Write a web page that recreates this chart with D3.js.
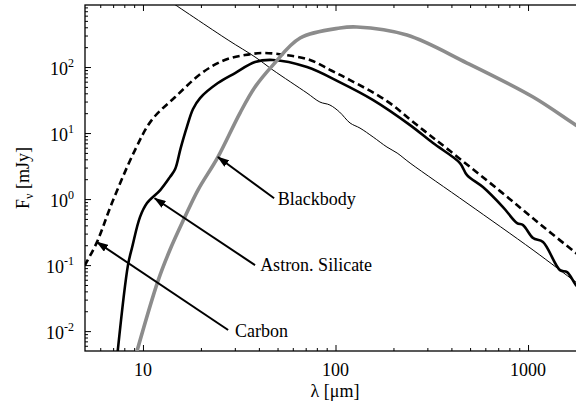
<!DOCTYPE html>
<html>
<head>
<meta charset="utf-8">
<script src="https://cdn.jsdelivr.net/npm/d3@7"></script>
<style>
  body { margin: 0; background: #fff; }
  svg { display: block; }
  text { font-family: "Liberation Serif", "Times New Roman", serif; fill: #000; }
</style>
</head>
<body>
<svg id="chart" width="576" height="414"></svg>
<script>
// Spectral energy distributions: wavelength in µm, flux density in mJy.
const blackbodyLambda = [9.09, 11.96, 13.8, 16.5, 19.3, 24.5, 31.9, 38.2, 47.3, 65.5, 105.4, 129, 235, 482, 1062, 1774, 2000];
const blackbodyFlux   = [0.0039, 0.0573, 0.169, 0.533, 1.37, 4.33, 20.1, 49.8, 107, 275, 390, 404, 305, 115, 35.1, 13.2, 10.8];

const silicateLambda = [7.33, 8.36, 8.8, 9.65, 10.5, 12.3, 13.8, 14.7, 15.7, 16.9, 18.2, 19.8, 24.5, 30.1, 38.2, 47.3, 71.1, 105, 157, 244, 321, 443, 482, 583, 741, 877, 942, 1062, 1196, 1466, 1595, 1774, 2000];
const silicateFlux   = [0.0039, 0.1, 0.19, 0.533, 0.869, 1.37, 2.15, 2.85, 5.93, 12.3, 23.1, 33.9, 57.2, 81.1, 119, 128, 100, 59.2, 31.6, 13.2, 7.05, 3.51, 2.31, 1.52, 0.757, 0.433, 0.404, 0.257, 0.223, 0.0839, 0.0783, 0.0498, 0.035];

const carbonLambda = [4.7, 5.0, 5.77, 6.90, 9.09, 11.1, 14.7, 20.2, 26.6, 33.9, 42.0, 55, 73.7, 95, 119, 185, 265, 394, 716, 1153, 1774, 2000];
const carbonFlux   = [0.07, 0.10, 0.223, 0.869, 5.52, 15.7, 35.1, 81.1, 128, 152, 163, 152, 128, 88.5, 63.5, 30.5, 13.2, 5.33, 1.32, 0.418, 0.152, 0.115];

const powerLawLambda = [14.0, 27.7, 38.2, 47.3, 71.1, 83.0, 93.5, 105, 119, 134, 157, 185, 209, 244, 482, 1062, 1774, 2000];
const powerLawFlux   = [966, 256, 142, 90.1, 40.4, 29.5, 26.6, 20.8, 14.2, 11.9, 8.69, 6.14, 4.98, 3.51, 0.869, 0.169, 0.0552, 0.043];

// Axis ticks
const xTickValues = [10, 100, 1000];
const xTickLabels = ["10", "100", "1000"];
const yTickValues = [0.01, 0.1, 1, 10, 100];
const yTickExponents = ["-2", "-1", "0", "1", "2"];

// Curve annotations: arrow tip, arrow tail and label anchor (data units)
const noteNames      = ["Blackbody", "Astron. Silicate", "Carbon"];
const noteTipLambda  = [24.5, 11.5, 5.77];
const noteTipFlux    = [4.33, 1.03, 0.223];
const noteTailLambda = [48.0, 38.2, 27.7];
const noteTailFlux   = [1.03, 0.1, 0.0104];
const noteTextLambda = [50.2, 40.6, 30.1];
const noteTextFlux   = [0.81, 0.081, 0.0081];

const svg = d3.select("#chart");
const plotLeft = 85, plotRight = 586, plotTop = 5, plotBottom = 351;

const x = d3.scaleLog().domain([5, 2000]).range([plotLeft, plotRight]);
const y = d3.scaleLog().domain([0.005, 870]).range([plotBottom, plotTop]);

const defs = svg.append("defs");
defs.append("clipPath").attr("id", "plotClip")
  .append("rect").attr("x", plotLeft).attr("y", plotTop)
  .attr("width", plotRight - plotLeft).attr("height", plotBottom - plotTop);
defs.append("marker").attr("id", "head")
  .attr("viewBox", "0 -4 12 8").attr("refX", 11).attr("refY", 0)
  .attr("markerUnits", "userSpaceOnUse")
  .attr("markerWidth", 12).attr("markerHeight", 8)
  .attr("orient", "auto")
  .append("path").attr("d", "M0,-4L12,0L0,4Z").attr("fill", "#000");

// minor tick positions (2..9 per decade)
function minorTicks(scale) {
  const [a, b] = scale.domain();
  const out = [];
  for (let e = -4; e <= 4; e++) {
    for (let k = 2; k <= 9; k++) {
      const v = k * Math.pow(10, e);
      if (v > a && v < b) out.push(v);
    }
  }
  return out;
}
const xMinor = minorTicks(x);
const yMinor = minorTicks(y);

function styleAxis(g) {
  g.select(".domain").remove();
  g.selectAll(".tick line").attr("stroke", "#000").attr("stroke-width", 1);
  g.selectAll(".tick text").remove();
}

// bottom axis
svg.append("g").attr("transform", `translate(0,${plotBottom})`)
  .call(d3.axisBottom(x).tickValues(xTickValues).tickSize(-6).tickSizeOuter(0)).call(styleAxis);
svg.append("g").attr("transform", `translate(0,${plotBottom})`)
  .call(d3.axisBottom(x).tickValues(xMinor).tickSize(-3).tickSizeOuter(0)).call(styleAxis);
// top axis
svg.append("g").attr("transform", `translate(0,${plotTop})`)
  .call(d3.axisTop(x).tickValues(xTickValues).tickSize(-6).tickSizeOuter(0)).call(styleAxis);
svg.append("g").attr("transform", `translate(0,${plotTop})`)
  .call(d3.axisTop(x).tickValues(xMinor).tickSize(-3).tickSizeOuter(0)).call(styleAxis);
// left axis
svg.append("g").attr("transform", `translate(${plotLeft},0)`)
  .call(d3.axisLeft(y).tickValues(yTickValues).tickSize(-6).tickSizeOuter(0)).call(styleAxis);
svg.append("g").attr("transform", `translate(${plotLeft},0)`)
  .call(d3.axisLeft(y).tickValues(yMinor).tickSize(-3).tickSizeOuter(0)).call(styleAxis);

// frame
svg.append("rect").attr("x", plotLeft).attr("y", plotTop)
  .attr("width", plotRight - plotLeft).attr("height", plotBottom - plotTop)
  .attr("fill", "none").attr("stroke", "#000").attr("stroke-width", 1.3);

// x tick labels
svg.append("g").attr("class", "x-labels")
  .selectAll("text").data(xTickValues).join("text")
  .attr("x", d => x(d)).attr("y", plotBottom + 25)
  .attr("text-anchor", "middle").attr("font-size", 18)
  .text((d, i) => xTickLabels[i]);

// y tick labels as powers of ten
const yLab = svg.append("g").attr("class", "y-labels")
  .selectAll("text").data(yTickValues).join("text")
  .attr("x", plotLeft - 11).attr("y", d => y(d) + 8)
  .attr("text-anchor", "end").attr("font-size", 18);
yLab.append("tspan").text("10");
yLab.append("tspan").attr("font-size", 12).attr("dy", -8)
  .text((d, i) => yTickExponents[i]);

// axis titles
svg.append("text").attr("x", 335).attr("y", 397)
  .attr("text-anchor", "middle").attr("font-size", 18)
  .text("λ [μm]");
const yTitle = svg.append("text")
  .attr("transform", "translate(29,178) rotate(-90)")
  .attr("text-anchor", "middle").attr("font-size", 18);
yTitle.append("tspan").text("F");
yTitle.append("tspan").attr("font-size", 12).attr("dy", 4).text("ν");
yTitle.append("tspan").attr("dy", -4).text(" [mJy]");

// curves
const line = d3.line()
  .x(d => x(d[0])).y(d => y(d[1]))
  .curve(d3.curveCatmullRom.alpha(0.5));
const zip = (a, b) => a.map((v, i) => [v, b[i]]);

const plot = svg.append("g").attr("clip-path", "url(#plotClip)");

plot.append("path").datum(zip(powerLawLambda, powerLawFlux))
  .attr("d", line).attr("fill", "none").attr("stroke", "#000").attr("stroke-width", 1);
plot.append("path").datum(zip(silicateLambda, silicateFlux))
  .attr("d", line).attr("fill", "none").attr("stroke", "#000").attr("stroke-width", 2.6);
plot.append("path").datum(zip(carbonLambda, carbonFlux))
  .attr("d", line).attr("fill", "none").attr("stroke", "#000").attr("stroke-width", 2.6)
  .attr("stroke-dasharray", "7,4");
plot.append("path").datum(zip(blackbodyLambda, blackbodyFlux))
  .attr("d", line).attr("fill", "none").attr("stroke", "#8c8c8c").attr("stroke-width", 3.6);

// annotations
const notes = svg.append("g");
noteNames.forEach((name, i) => {
  notes.append("line")
    .attr("x1", x(noteTailLambda[i])).attr("y1", y(noteTailFlux[i]))
    .attr("x2", x(noteTipLambda[i])).attr("y2", y(noteTipFlux[i]))
    .attr("stroke", "#000").attr("stroke-width", 2)
    .attr("marker-end", "url(#head)");
  notes.append("text")
    .attr("x", x(noteTextLambda[i])).attr("y", y(noteTextFlux[i]))
    .attr("font-size", 18).text(name);
});
</script>
</body>
</html>
